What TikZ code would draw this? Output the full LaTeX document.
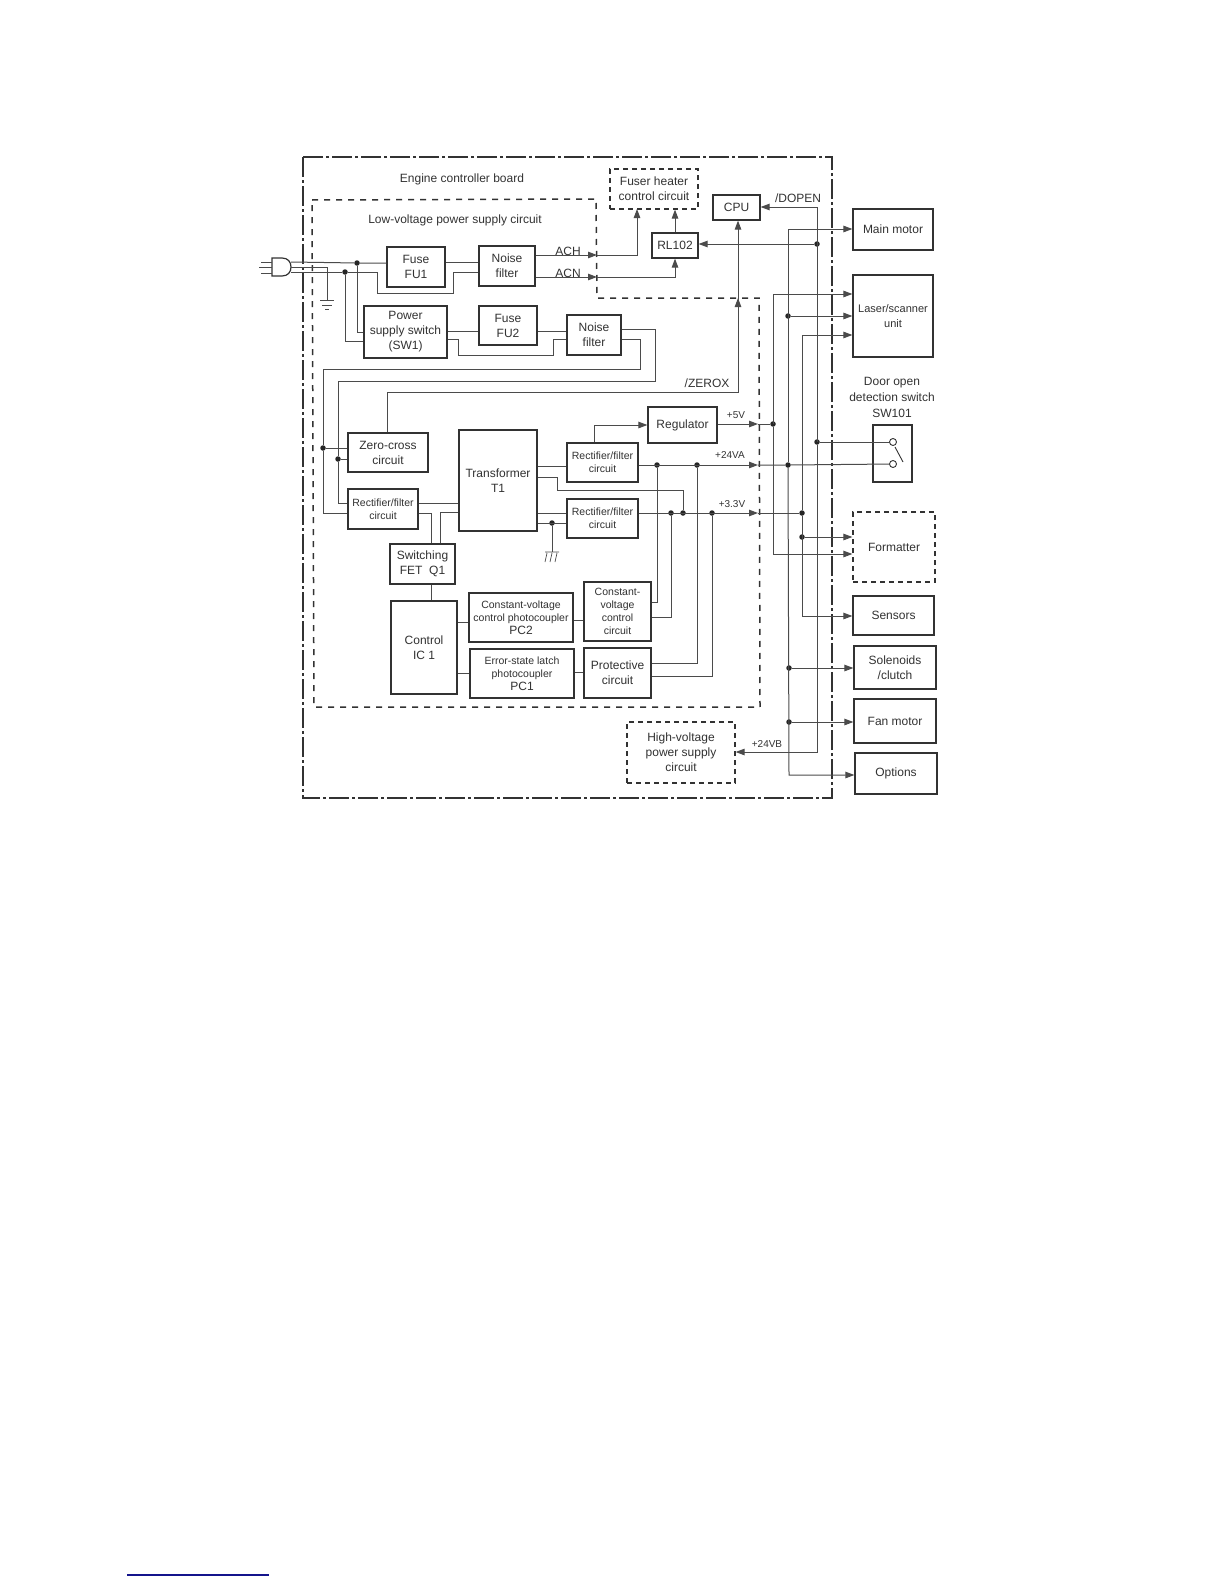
\documentclass[tikz,border=0pt]{standalone}
\usepackage{fontspec}
\setmainfont{Liberation Sans}
\usetikzlibrary{positioning,calc}
\usetikzlibrary{arrows.meta}
\definecolor{InkGray}{RGB}{50,50,50}
\definecolor{WireGray}{RGB}{75,75,75}
\definecolor{RuleBlue}{RGB}{20,20,140}
\tikzset{
  box/.style={draw=InkGray,fill=white,line width=1.2pt,inner sep=0pt,align=center,text=InkGray,font=\fontsize{12}{15}\selectfont},
  dbox/.style={box,dash pattern=on 5pt off 4pt},
  tiny/.style={font=\fontsize{10.5}{13.2}\selectfont},
  lab/.style={inner sep=0pt,align=center,text=InkGray,font=\fontsize{12}{16}\selectfont},
  sig/.style={lab,font=\fontsize{10}{12}\selectfont},
  wire/.style={draw=WireGray,line width=1pt},
  arr/.style={wire,-{Triangle[length=9pt,width=6.5pt]}},
  dot/.style={circle,fill=black!85,inner sep=0pt,minimum size=5.5pt},
  port/.style={circle,draw=InkGray,fill=white,line width=.9pt,inner sep=0pt,minimum size=7pt},
}
\begin{document}
\begin{tikzpicture}[x=1pt,y=-1pt]
\useasboundingbox (0,0) rectangle (1224,1584);
% frames
\draw[InkGray,line width=1.2pt,dash pattern=on 20pt off 3pt on 3pt off 3pt] (303,157) rectangle (832,798);
\draw[InkGray,line width=1.5pt,dash pattern=on 6pt off 6pt] (312,200) -- (596,199) -- (597,298) -- (759,298) -- (760,707) -- (314,707) -- cycle;
\draw[RuleBlue,line width=1.2pt] (127,1575) -- (269,1575);
% junctions
\node[dot] (jA) at (357,263) {};
\node[dot] (jB) at (345,272) {};
\node[dot] (jC) at (323,448) {};
\node[dot] (jD) at (338,459) {};
\node[dot] (jE) at (552,523) {};
\node[dot] (jF) at (657,465) {};
\node[dot] (jG) at (697,465) {};
\node[dot] (jH) at (671,513) {};
\node[dot] (jI) at (683,513) {};
\node[dot] (jJ) at (712,513) {};
\node[dot] (jK) at (773,424) {};
\node[dot] (jL) at (788,465) {};
\node[dot] (jM) at (802,513) {};
\node[dot] (jN) at (788,316) {};
\node[dot] (jO) at (802,537) {};
\node[dot] (jP) at (817,244) {};
\node[dot] (jQ) at (817,442) {};
\node[dot] (jR) at (789,668) {};
\node[dot] (jS) at (789,722) {};
% blocks
\node[box,minimum width=58pt,minimum height=40pt] (fuseA) at (416,267) {Fuse\\FU1};
\node[box,minimum width=56pt,minimum height=40pt] (noiseA) at (507,266) {Noise\\filter};
\node[box,minimum width=83pt,minimum height=52pt] (power) at (405.5,332) {Power\\supply switch\\(SW1)};
\node[box,minimum width=58pt,minimum height=39pt] (fuseB) at (508,325.5) {Fuse\\FU2};
\node[box,minimum width=54pt,minimum height=40pt] (noiseB) at (594,335) {Noise\\filter};
\node[dbox,minimum width=88pt,minimum height=40pt] (fuser) at (654,189) {Fuser heater\\control circuit};
\node[box,minimum width=47pt,minimum height=25pt] (cpu) at (736.5,207.5) {CPU};
\node[box,minimum width=46pt,minimum height=25pt] (relay) at (675,245.5) {RL102};
\node[box,minimum width=80pt,minimum height=41pt] (motor) at (893,229.5) {Main motor};
\node[box,font=\fontsize{11}{15}\selectfont,minimum width=80pt,minimum height=82pt] (laser) at (893,316) {Laser/scanner\\unit};
\node[box,minimum width=39pt,minimum height=57pt] (door) at (892.5,453.5) {};
\node[box,minimum width=80pt,minimum height=39pt] (zero) at (388,452.5) {Zero-cross\\circuit};
\node[box,tiny,minimum width=70pt,minimum height=40pt] (rectL) at (383,509) {Rectifier/filter\\circuit};
\node[box,minimum width=78pt,minimum height=101pt] (trans) at (498,480.5) {Transformer\\T1};
\node[box,tiny,minimum width=71pt,minimum height=39pt] (rectT) at (602.5,462.5) {Rectifier/filter\\circuit};
\node[box,tiny,minimum width=71pt,minimum height=39pt] (rectB) at (602.5,518.5) {Rectifier/filter\\circuit};
\node[box,minimum width=65pt,minimum height=40pt] (fet) at (422.5,564) {Switching\\FET\ \ Q1};
\node[box,minimum width=66pt,minimum height=93pt] (control) at (424,647.5) {Control\\IC 1};
\node[box,tiny,minimum width=104pt,minimum height=49pt] (coupB) at (521,617.5) {Constant-voltage\\control photocoupler\\{\fontsize{12}{13.2}\selectfont PC2}};
\node[box,tiny,minimum width=104pt,minimum height=49pt] (coupA) at (522,673.5) {Error-state latch\\photocoupler\\{\fontsize{12}{13.2}\selectfont PC1}};
\node[box,tiny,minimum width=67pt,minimum height=59pt] (const) at (617.5,611.5) {Constant-\\voltage\\control\\circuit};
\node[box,minimum width=67pt,minimum height=50pt] (prot) at (617.5,673) {Protective\\circuit};
\node[box,minimum width=69pt,minimum height=36pt] (reg) at (682.5,425) {Regulator};
\node[dbox,minimum width=82pt,minimum height=70pt] (fmt) at (894,547) {Formatter};
\node[box,minimum width=81pt,minimum height=39pt] (sens) at (893.5,615.5) {Sensors};
\node[box,minimum width=82pt,minimum height=43pt] (sol) at (895,667.5) {Solenoids\\/clutch};
\node[box,minimum width=82pt,minimum height=44pt] (fan) at (895,721) {Fan motor};
\node[box,minimum width=82pt,minimum height=41pt] (opt) at (896,773.5) {Options};
\node[dbox,minimum width=108pt,minimum height=61pt] (hv) at (681,752.5) {High-voltage\\power supply\\circuit};
\node[port] (swA) at (893,442) {};
\node[port] (swB) at (893,464) {};
% plug and earth
\coordinate (plugA) at (291,262);
\coordinate (plugB) at (291,267);
\coordinate (plugC) at (291,272);
\coordinate (earth) at (327,300);
\coordinate (mark) at (552,552);
\draw[InkGray,line width=1.2pt,fill=white] (272,258) -- (282,258) .. controls (288,258) and (291,262) .. (291,267) .. controls (291,272) and (288,276) .. (282,276) -- (272,276) -- cycle;
\draw[wire] (261,262) -- (272,262) (259,267) -- (272,267) (261,273) -- (272,273);
\draw[wire] (plugB) -| (earth);
\draw[wire] (320,300) -- (334,300) (322,305) -- (332,305) (325,309) -- (329,309);
\draw[wire,line width=.7pt] (545,552) -- (559,552) (547,553) -- (545,562) (552,553) -- (550,562) (557,553) -- (555,562);
% mains side
\draw[wire] (plugA) -- (jA) -- (fuseA.west |- jA);
\draw[wire] (plugC) -- (jB) -- (377,272) -- (377,293) -- (453,293) -- (453,272) -- (noiseA.west |- 0,272);
\draw[wire] (jA) |- (power.west |- 0,332);
\draw[wire] (jB) |- (power.west |- 0,341);
\draw[wire] (fuseA.east |- 0,262) -- (noiseA.west |- 0,262);
\draw[wire] (power.east |- 0,331) -- (fuseB.west |- 0,331);
\draw[wire] (fuseB.east |- 0,331) -- (noiseB.west |- 0,331);
\draw[wire] (power.east |- 0,339) -- (458,339) -- (458,355) -- (553,355) -- (553,339) -- (noiseB.west |- 0,339);
% AC lines
\coordinate (achB) at (597,255);
\coordinate (acnB) at (597,277);
\draw[arr] (noiseA.east |- achB) -- (achB);
\draw[arr] (noiseA.east |- acnB) -- (acnB);
\draw[arr] (achB) -- (637,255) -- (637,209);
\draw[arr] (acnB) -| (relay.south);
\draw[arr] (relay.north) -- (relay.north |- fuser.south);
\draw[arr] (jP) -- (relay.east |- jP);
% primary side
\draw[wire] (noiseB.east |- 0,339) -- (640,339) -- (640,369) -- (323,369) -- (jC) -- (323,513) -- (rectL.west |- 0,513);
\draw[wire] (noiseB.east |- 0,329) -- (655,329) -- (655,381) -- (338,381) -- (jD) -- (338,503) -- (rectL.west |- 0,503);
\draw[wire] (jC) -- (zero.west |- jC);
\draw[wire] (jD) -- (zero.west |- jD);
\coordinate (zeroB) at (738,298);
\draw[wire] (zero.north -| 387,0) -- (387,392) -- (738,392) -- (zeroB);
\draw[arr] (738,392) -- (zeroB);
\draw[arr] (zeroB) -- (cpu.south -| zeroB);
\draw[wire] (rectL.east |- 0,503) -- (trans.west |- 0,503);
\draw[wire] (rectL.east |- 0,513) -- (431,513) -- (fet.north -| 431,0);
\draw[wire] (fet.north -| 440,0) -- (440,512) -- (trans.west |- 0,512);
\draw[wire] (fet.south -| 431,0) -- (control.north -| 431,0);
\draw[wire] (control.east |- 0,622) -- (coupB.west |- 0,622);
\draw[wire] (control.east |- 0,673) -- (coupA.west |- 0,673);
\draw[wire] (coupB.east |- 0,620) -- (const.west |- 0,620);
\draw[wire] (coupA.east |- 0,672) -- (prot.west |- 0,672);
% secondary side
\draw[wire] (trans.east |- 0,466) -- (rectT.west |- 0,466);
\draw[wire] (trans.east |- 0,513) -- (rectB.west |- 0,513);
\draw[wire] (trans.east |- jE) -- (rectB.west |- jE);
\draw[wire] (jE) -- (mark);
\draw[wire] (trans.east |- 0,477) -- (557,477) -- (557,490) -- (683,490) -- (jI);
\draw[arr] (rectT.north -| 594,0) |- (reg.west |- 0,425);
\draw[wire] (jF) |- (const.east |- 0,602);
\draw[wire] (jH) |- (const.east |- 0,617);
\draw[wire] (jG) |- (prot.east |- 0,663);
\draw[wire] (jJ) |- (prot.east |- 0,676);
% supply rails
\coordinate (vfiveB) at (758,424);
\coordinate (vtwoB) at (758,465);
\coordinate (vthreeB) at (758,513);
\draw[arr] (reg.east |- vfiveB) -- (vfiveB);
\draw[arr] (rectT.east |- vtwoB) -- (vtwoB);
\draw[arr] (rectB.east |- vthreeB) -- (vthreeB);
\draw[wire] (vfiveB) -- (jK);
\draw[wire] (vtwoB) -- (jL) -- (swB);
\draw[wire] (vthreeB) -- (jM);
\draw[wire] (jQ) -- (swA);
\draw[InkGray,line width=.9pt] (895,447) -- (903,462);
% risers to the loads
\draw[arr] (773,424) -- (773,294) -- (laser.west |- 0,294);
\draw[arr] (jK) -- (773,554) -- (fmt.west |- 0,554);
\draw[arr] (jL) -- (788,229) -- (motor.west |- 0,229);
\draw[arr] (jN) -- (laser.west |- jN);
\draw[arr] (jL) -- (789,775) -- (opt.west |- 0,775);
\draw[arr] (jR) -- (sol.west |- jR);
\draw[arr] (jS) -- (fan.west |- jS);
\draw[arr] (jM) -- (802,335) -- (laser.west |- 0,335);
\draw[arr] (jM) -- (802,616) -- (sens.west |- 0,616);
\draw[arr] (jO) -- (fmt.west |- jO);
\draw[arr] (817,442) -- (817,207) -- (cpu.east |- 0,207);
\draw[arr] (jQ) -- (817,752) -- (hv.east |- 0,752);
% labels
\node[lab] (board) at (462,179) {Engine controller board};
\node[lab] (supply) at (455,220) {Low-voltage power supply circuit};
\node[lab] (ach) at (568,251) {ACH};
\node[lab] (acn) at (568,273) {ACN};
\node[lab] (dopen) at (798,198) {/DOPEN};
\node[lab] (zerox) at (707,383) {/ZEROX};
\node[lab] (doorlab) at (892,397) {Door open\\detection switch\\SW101};
\node[sig] (vfive) at (736,415) {+5V};
\node[sig] (vtwo) at (730,455) {+24VA};
\node[sig] (vthree) at (732,504) {+3.3V};
\node[sig] (vhv) at (767,744) {+24VB};
\end{tikzpicture}
\end{document}
